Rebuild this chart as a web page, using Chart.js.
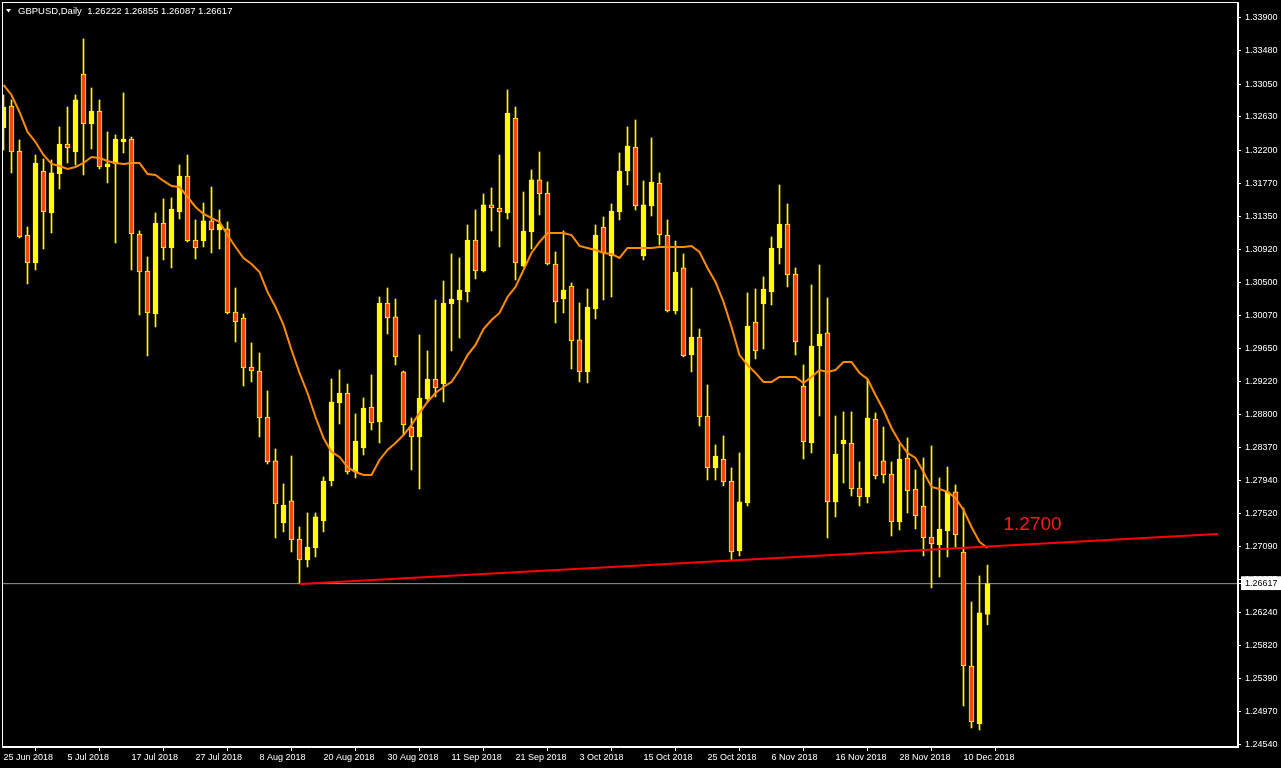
<!DOCTYPE html>
<html>
<head>
<meta charset="utf-8">
<script src="https://cdn.jsdelivr.net/npm/chart.js@4.4.1/dist/chart.umd.min.js"></script>
<style>
  html, body { margin: 0; padding: 0; background: #000; overflow: hidden; }
  canvas { display: block; }
</style>
</head>
<body>
<canvas id="chart" width="1281" height="768"></canvas>
<script>
// GBPUSD daily candles, 25 Jun 2018 .. 13 Dec 2018
var opens = [
  1.32484, 1.32767, 1.32188, 1.31106, 1.30746, 1.31930, 1.31390, 1.31892, 1.32278, 1.32175,
  1.33179, 1.32536, 1.32703, 1.31982, 1.32021, 1.32304, 1.32342, 1.31119, 1.30643, 1.30089,
  1.31261, 1.30939, 1.31403, 1.31866, 1.31042, 1.31029, 1.31287, 1.31171, 1.31184, 1.30115,
  1.30038, 1.29407, 1.29355, 1.28763, 1.28197, 1.27398, 1.27682, 1.27192, 1.26922, 1.27077,
  1.27424, 1.27939, 1.28943, 1.29072, 1.28055, 1.28364, 1.28892, 1.28699, 1.30231, 1.30051,
  1.29343, 1.28634, 1.28506, 1.28995, 1.29252, 1.29188, 1.30218, 1.30270, 1.30373, 1.31042,
  1.30643, 1.31493, 1.31454, 1.31390, 1.32613, 1.30707, 1.31145, 1.31815, 1.31647, 1.30733,
  1.30282, 1.30450, 1.29755, 1.29343, 1.30154, 1.31209, 1.30836, 1.31403, 1.31930, 1.32239,
  1.30836, 1.31480, 1.31776, 1.31106, 1.30128, 1.30682, 1.29561, 1.29793, 1.28776, 1.28107,
  1.28222, 1.27939, 1.27038, 1.27656, 1.29986, 1.30218, 1.30373, 1.30939, 1.31248, 1.30604,
  1.29162, 1.28428, 1.29677, 1.29845, 1.27669, 1.28416, 1.28428, 1.27849, 1.27733, 1.28737,
  1.28197, 1.28029, 1.27411, 1.28235, 1.27836, 1.27617, 1.27218, 1.27115, 1.27295, 1.27798,
  1.27025, 1.25557, 1.24811, 1.26222
];
var highs = [
  1.32909, 1.32845, 1.32330, 1.31209, 1.32136, 1.32085, 1.32072, 1.32497, 1.32754, 1.32909,
  1.33630, 1.32999, 1.32845, 1.32433, 1.32394, 1.32935, 1.32368, 1.31158, 1.30823, 1.31390,
  1.31570, 1.31583, 1.32008, 1.32136, 1.31300, 1.31518, 1.31724, 1.31428, 1.31274, 1.30424,
  1.30089, 1.29716, 1.29587, 1.29098, 1.28351, 1.27901, 1.28261, 1.27347, 1.27527, 1.27527,
  1.27991, 1.29252, 1.29368, 1.29188, 1.28802, 1.29008, 1.29304, 1.30308, 1.30424, 1.30282,
  1.29355, 1.28750, 1.29819, 1.29613, 1.30270, 1.30514, 1.30862, 1.30810, 1.31235, 1.31428,
  1.31634, 1.31712, 1.32136, 1.32973, 1.32754, 1.31660, 1.31943, 1.32175, 1.31789, 1.30888,
  1.31158, 1.30488, 1.30231, 1.30411, 1.31235, 1.31338, 1.31506, 1.32162, 1.32497, 1.32587,
  1.31802, 1.32355, 1.31905, 1.31300, 1.31029, 1.30862, 1.30424, 1.29896, 1.29175, 1.28403,
  1.28519, 1.28107, 1.28300, 1.30360, 1.30411, 1.30566, 1.31081, 1.31750, 1.31506, 1.30682,
  1.29433, 1.30463, 1.30720, 1.30295, 1.28776, 1.28828, 1.28828, 1.28184, 1.29252, 1.28815,
  1.28634, 1.28184, 1.28416, 1.28493, 1.28081, 1.28235, 1.28390, 1.27978, 1.28119, 1.27888,
  1.27592, 1.26381, 1.26716, 1.26855
];
var lows = [
  1.32201, 1.31905, 1.31068, 1.30476, 1.30656, 1.30926, 1.31132, 1.31699, 1.32033, 1.32008,
  1.31879, 1.32214, 1.31956, 1.31776, 1.31003, 1.32162, 1.30656, 1.30076, 1.29549, 1.29922,
  1.30785, 1.30682, 1.31312, 1.31016, 1.30797, 1.30952, 1.30875, 1.30926, 1.30089, 1.29729,
  1.29162, 1.29214, 1.28506, 1.28158, 1.27205, 1.27283, 1.27025, 1.26619, 1.26832, 1.26961,
  1.27283, 1.27875, 1.28673, 1.28029, 1.27978, 1.28274, 1.28596, 1.28428, 1.29832, 1.29433,
  1.28531, 1.28081, 1.27836, 1.28969, 1.29021, 1.28956, 1.29613, 1.29780, 1.30244, 1.30540,
  1.30630, 1.31158, 1.30952, 1.31312, 1.30527, 1.30694, 1.30926, 1.31364, 1.30720, 1.29973,
  1.30102, 1.29381, 1.29214, 1.29201, 1.30025, 1.30270, 1.30308, 1.31300, 1.31750, 1.31428,
  1.30785, 1.31351, 1.30978, 1.30115, 1.30089, 1.29536, 1.29343, 1.28647, 1.27952, 1.27952,
  1.27875, 1.26922, 1.26974, 1.27617, 1.29510, 1.29639, 1.30205, 1.30733, 1.30437, 1.29561,
  1.28222, 1.28300, 1.28776, 1.27205, 1.27476, 1.27913, 1.27746, 1.27617, 1.27656, 1.27965,
  1.27913, 1.27231, 1.27308, 1.27527, 1.27321, 1.26974, 1.26562, 1.26703, 1.26961, 1.27089,
  1.25042, 1.24759, 1.24733, 1.26087
];
var closes = [
  1.32754, 1.32175, 1.31081, 1.30746, 1.32033, 1.31403, 1.31905, 1.32278, 1.32227, 1.32845,
  1.32536, 1.32703, 1.31982, 1.32021, 1.32342, 1.32342, 1.31119, 1.30630, 1.30102, 1.31261,
  1.30939, 1.31441, 1.31866, 1.31029, 1.30939, 1.31287, 1.31171, 1.31248, 1.30102, 1.29986,
  1.29394, 1.29355, 1.28750, 1.28184, 1.27643, 1.27630, 1.27180, 1.26922, 1.27089, 1.27476,
  1.27939, 1.28956, 1.29072, 1.28055, 1.28454, 1.28879, 1.28686, 1.30231, 1.30038, 1.29536,
  1.28660, 1.28506, 1.29008, 1.29252, 1.29137, 1.30231, 1.30282, 1.30398, 1.31042, 1.30643,
  1.31493, 1.31454, 1.31403, 1.32677, 1.30746, 1.31158, 1.31815, 1.31634, 1.30733, 1.30244,
  1.30398, 1.29742, 1.29343, 1.30179, 1.31106, 1.30875, 1.31415, 1.31930, 1.32252, 1.31480,
  1.31493, 1.31789, 1.31106, 1.30128, 1.30630, 1.29549, 1.29793, 1.28763, 1.28107, 1.28261,
  1.27926, 1.27025, 1.27669, 1.29935, 1.29613, 1.30411, 1.30939, 1.31248, 1.30591, 1.29729,
  1.28441, 1.29677, 1.29832, 1.27669, 1.28287, 1.28467, 1.27836, 1.27733, 1.28750, 1.28004,
  1.28016, 1.27411, 1.28222, 1.27810, 1.27489, 1.27205, 1.27128, 1.27321, 1.27798, 1.27244,
  1.25557, 1.24836, 1.26240, 1.26617
];
// moving average as drawn on the chart
var maValues = [
  1.33038, 1.32909, 1.32690, 1.32433, 1.32304, 1.32136, 1.32021, 1.31995, 1.31956, 1.31982,
  1.32033, 1.32111, 1.32098, 1.32059, 1.32033, 1.32021, 1.32033, 1.32033, 1.31892, 1.31879,
  1.31802, 1.31737, 1.31724, 1.31596, 1.31467, 1.31377, 1.31325, 1.31274, 1.31106, 1.30952,
  1.30810, 1.30733, 1.30630, 1.30373, 1.30179, 1.29948, 1.29626, 1.29330, 1.29072, 1.28763,
  1.28493, 1.28313, 1.28248, 1.28119, 1.28055, 1.28016, 1.28016, 1.28210, 1.28338, 1.28428,
  1.28531, 1.28660, 1.28815, 1.28956, 1.29072, 1.29149, 1.29214, 1.29368, 1.29561, 1.29690,
  1.29896, 1.30012, 1.30102, 1.30308, 1.30437, 1.30656, 1.30875, 1.31016, 1.31132, 1.31132,
  1.31132, 1.31106, 1.30965, 1.30939, 1.30913, 1.30875, 1.30862, 1.30810, 1.30939, 1.30939,
  1.30939, 1.30939, 1.30952, 1.30952, 1.30952, 1.30952, 1.30965, 1.30888, 1.30682, 1.30501,
  1.30244, 1.29922, 1.29561, 1.29433, 1.29330, 1.29214, 1.29214, 1.29278, 1.29278, 1.29278,
  1.29201, 1.29278, 1.29368, 1.29343, 1.29368, 1.29471, 1.29471, 1.29330, 1.29252, 1.29046,
  1.28853, 1.28622, 1.28441, 1.28300, 1.28235, 1.28055, 1.27862, 1.27836, 1.27798, 1.27720,
  1.27566, 1.27347, 1.27154, 1.27077
];
var dateLabels = [
  '25 Jun 2018', '5 Jul 2018', '17 Jul 2018', '27 Jul 2018', '8 Aug 2018', '20 Aug 2018',
  '30 Aug 2018', '11 Sep 2018', '21 Sep 2018', '3 Oct 2018', '15 Oct 2018', '25 Oct 2018',
  '6 Nov 2018', '16 Nov 2018', '28 Nov 2018', '10 Dec 2018'
];
var barsPerLabel = 8;
var priceTicks = [
  1.24540, 1.24970, 1.25390, 1.25820, 1.26240, 1.26670, 1.27090, 1.27520, 1.27940, 1.28370,
  1.28800, 1.29220, 1.29650, 1.30070, 1.30500, 1.30920, 1.31350, 1.31770, 1.32200, 1.32630,
  1.33050, 1.33480, 1.33900
];
var lastPrice = 1.26617;
var trendBars = [37, 151.8];
var trendPrices = [1.26613, 1.27257];
var levelText = '1.2700';
var levelBar = 125;
var levelPrice = 1.27373;
var headerText = 'GBPUSD,Daily  1.26222 1.26855 1.26087 1.26617';

var xMin = -0.1875, xMax = 154.3125;
var yMin = 1.24514, yMax = 1.34106;

var bullColor = '#ffff00';
var bearColor = '#ff4500';

var bodies = opens.map(function(o, i) { return { x: i, y: [o, closes[i]] }; });
var wicks = lows.map(function(l, i) { return { x: i, y: [l, highs[i]] }; });
var maLine = maValues.map(function(v, i) { return { x: i, y: v }; });
var trendLine = trendBars.map(function(b, i) { return { x: b, y: trendPrices[i] }; });
var priceLine = [{ x: xMin, y: lastPrice }, { x: xMax, y: lastPrice }];

// y ticks: the last price goes right after 1.26670 so its white box is drawn on top
function buildPriceTicks() {
  var out = [];
  priceTicks.forEach(function(v) {
    out.push({ value: v });
    if (v === 1.26670) out.push({ value: lastPrice });
  });
  return out;
}

var frameAndText = {
  id: 'frameAndText',
  afterDraw: function(chart) {
    var ctx = chart.ctx, a = chart.chartArea;
    var xs = chart.scales.x, ys = chart.scales.y;
    ctx.save();
    ctx.strokeStyle = '#ffffff';
    ctx.lineWidth = 1;
    ctx.strokeRect(a.left + 0.5, a.top + 0.5, a.right - a.left - 1, a.bottom - a.top - 1);

    // header
    ctx.fillStyle = '#ffffff';
    ctx.beginPath();
    ctx.moveTo(6, 9); ctx.lineTo(11, 9); ctx.lineTo(8.5, 12.5);
    ctx.closePath();
    ctx.fill();
    ctx.font = '9.5px "Liberation Sans", Arial, sans-serif';
    ctx.textBaseline = 'middle';
    ctx.textAlign = 'left';
    ctx.fillText(headerText, 18, 11);

    // level label
    ctx.fillStyle = '#ff1a1a';
    ctx.font = '19px "Liberation Sans", Arial, sans-serif';
    ctx.fillText(levelText, xs.getPixelForValue(levelBar), ys.getPixelForValue(levelPrice));
    ctx.restore();
  }
};

Chart.defaults.font.family = '"Liberation Sans", Arial, sans-serif';
Chart.defaults.color = '#ffffff';

new Chart(document.getElementById('chart').getContext('2d'), {
  type: 'bar',
  data: {
    datasets: [
      {
        type: 'line',
        data: trendLine,
        borderColor: '#ff0000',
        borderWidth: 2,
        pointRadius: 0,
        clip: 0,
        order: 0
      },
      {
        type: 'line',
        data: maLine,
        borderColor: '#ff8c00',
        borderWidth: 2,
        pointRadius: 0,
        tension: 0,
        clip: 0,
        order: 1
      },
      {
        data: bodies,
        backgroundColor: bodies.map(function(b) { return b.y[1] >= b.y[0] ? bullColor : bearColor; }),
        borderColor: bullColor,
        borderWidth: 1,
        borderSkipped: false,
        barThickness: 5,
        grouped: false,
        clip: 0,
        order: 2
      },
      {
        data: wicks,
        backgroundColor: bullColor,
        borderWidth: 0,
        barThickness: 1,
        grouped: false,
        clip: 0,
        order: 3
      },
      {
        type: 'line',
        data: priceLine,
        borderColor: '#9a9a9a',
        borderWidth: 1,
        pointRadius: 0,
        clip: 0,
        order: 4
      }
    ]
  },
  options: {
    responsive: false,
    animation: false,
    devicePixelRatio: 1,
    layout: { padding: { left: 2, top: 2, right: 0, bottom: 0 } },
    plugins: {
      legend: { display: false },
      tooltip: { enabled: false }
    },
    scales: {
      x: {
        type: 'linear',
        min: xMin,
        max: xMax,
        offset: false,
        afterBuildTicks: function(scale) {
          scale.ticks = dateLabels.map(function(d, i) { return { value: i * barsPerLabel }; });
        },
        afterFit: function(scale) {
          scale.height = 21;
          scale.paddingLeft = 0;
          scale.paddingRight = 0;
        },
        ticks: {
          autoSkip: false,
          maxRotation: 0,
          align: 'start',
          padding: 1,
          color: '#ffffff',
          font: { size: 9 },
          callback: function(v) { return dateLabels[Math.round(v / barsPerLabel)]; }
        },
        grid: { drawOnChartArea: false, drawTicks: true, tickLength: 4, color: '#ffffff' },
        border: { display: true, color: '#ffffff' }
      },
      y: {
        position: 'right',
        min: yMin,
        max: yMax,
        afterBuildTicks: function(scale) {
          scale.ticks = buildPriceTicks();
        },
        afterFit: function(scale) {
          scale.width = 43;
          scale.paddingTop = 0;
          scale.paddingBottom = 0;
        },
        ticks: {
          autoSkip: false,
          padding: 4,
          font: { size: 9 },
          color: function(c) { return c.tick && c.tick.value === lastPrice ? '#000000' : '#ffffff'; },
          showLabelBackdrop: function(c) { return !!(c.tick && c.tick.value === lastPrice); },
          backdropColor: '#ffffff',
          backdropPadding: { top: 2, bottom: 1, left: 4, right: 8 },
          callback: function(v) { return v.toFixed(5); }
        },
        grid: { drawOnChartArea: false, drawTicks: true, tickLength: 3, color: '#ffffff' },
        border: { display: true, color: '#ffffff' }
      }
    }
  },
  plugins: [frameAndText]
});
</script>
</body>
</html>
